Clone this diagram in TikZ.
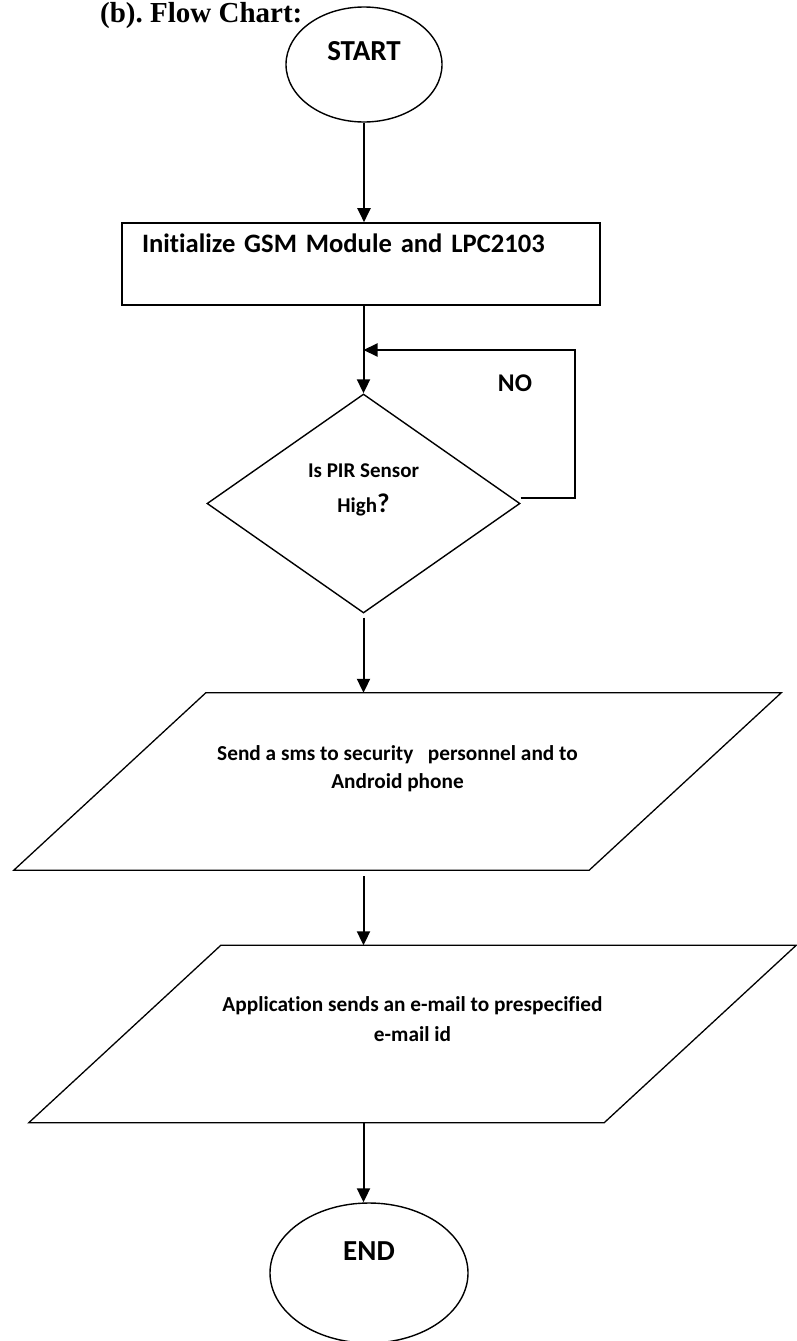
\documentclass[tikz,border=0pt]{standalone}
\usepackage{fontspec}
\setmainfont{Carlito}[Ligatures=NoCommon]
\newfontfamily\titlefont{Liberation Serif}
\usepackage{tikz}
\usetikzlibrary{arrows.meta,positioning,shapes.geometric}
\frenchspacing
\tikzset{
  ar/.style={-{Triangle[length=14pt,width=13pt]},line width=2pt},
  term/.style={draw,ellipse,line width=1.4pt,inner sep=0pt,font=\bfseries\fontsize{29}{34}\selectfont},
  box/.style={draw,rectangle,line width=1.6pt,minimum width=478pt,minimum height=82pt,text width=438pt,inner xsep=20pt,inner ysep=0pt,align=left,font=\bfseries\fontsize{26.6}{32}\selectfont},
  dec/.style={draw,diamond,line width=1.4pt,minimum width=313pt,minimum height=219pt,inner sep=0pt,align=center,font=\bfseries\fontsize{21}{35}\selectfont},
  io/.style={rectangle,minimum width=767pt,minimum height=177pt,inner sep=0pt,align=center,font=\bfseries\fontsize{21.3}{28}\selectfont},
  para/.style={line width=1.3pt,line join=miter},
  lbl/.style={inner sep=0pt,font=\bfseries\fontsize{25.5}{30}\selectfont}
}

\begin{document}
\begin{tikzpicture}[x=1pt,y=-1pt]
\useasboundingbox (0,0) rectangle (797,1341);
\node[anchor=base west,inner sep=0pt,font=\titlefont\bfseries\fontsize{29}{34}\selectfont] (ttl) at (100,22) {(b). Flow Chart:};
\node[term,minimum width=156pt,minimum height=115pt,text depth=27pt] (start) at (364,64.5) {START};
\node[box,text depth=42pt] (init) at (361,264) {Initialize GSM Module and LPC2103};
\node[dec,text depth=31pt] (pir) at (363.5,503.5) {Is PIR Sensor\\High{\fontsize{27}{30}\selectfont ?}};
\node[io,text depth=28pt] (sms) at (397.5,781.5) {Send a sms to security\ \ \ personnel and to\\Android phone};
\node[io,text depth=30pt,font=\bfseries\fontsize{21.3}{30}\selectfont] (mail) at (412.5,1034) {Application sends an e-mail to prespecified\\e-mail id};
\node[term,minimum width=198pt,minimum height=140pt,text depth=44pt] (stop) at (369,1273) {END};
\node[lbl] (no) at (515,383) {NO};
\coordinate (lp) at (363.5,350);
\coordinate (rt) at (575,350);

% input/output boxes
\foreach \n in {sms,mail}
  \draw[para] (\n.south west) -- ([xshift=192pt]\n.north west) -- (\n.north east) -- ([xshift=-192pt]\n.south east) -- cycle;

\draw[ar] (start.south) -- (start.south |- init.north);
\draw[ar] (pir.north |- init.south) -- (pir.north);
\draw[ar] ([yshift=6pt]pir.east) -| (rt) -- (lp);
\draw[ar,shorten <=4pt] (pir.south) -- (pir.south |- sms.north);
\draw[ar,shorten <=6pt] (sms.south -| pir.south) -- (pir.south |- mail.north);
\draw[ar] (mail.south -| pir.south) -- (pir.south |- stop.north);
\end{tikzpicture}
\end{document}
